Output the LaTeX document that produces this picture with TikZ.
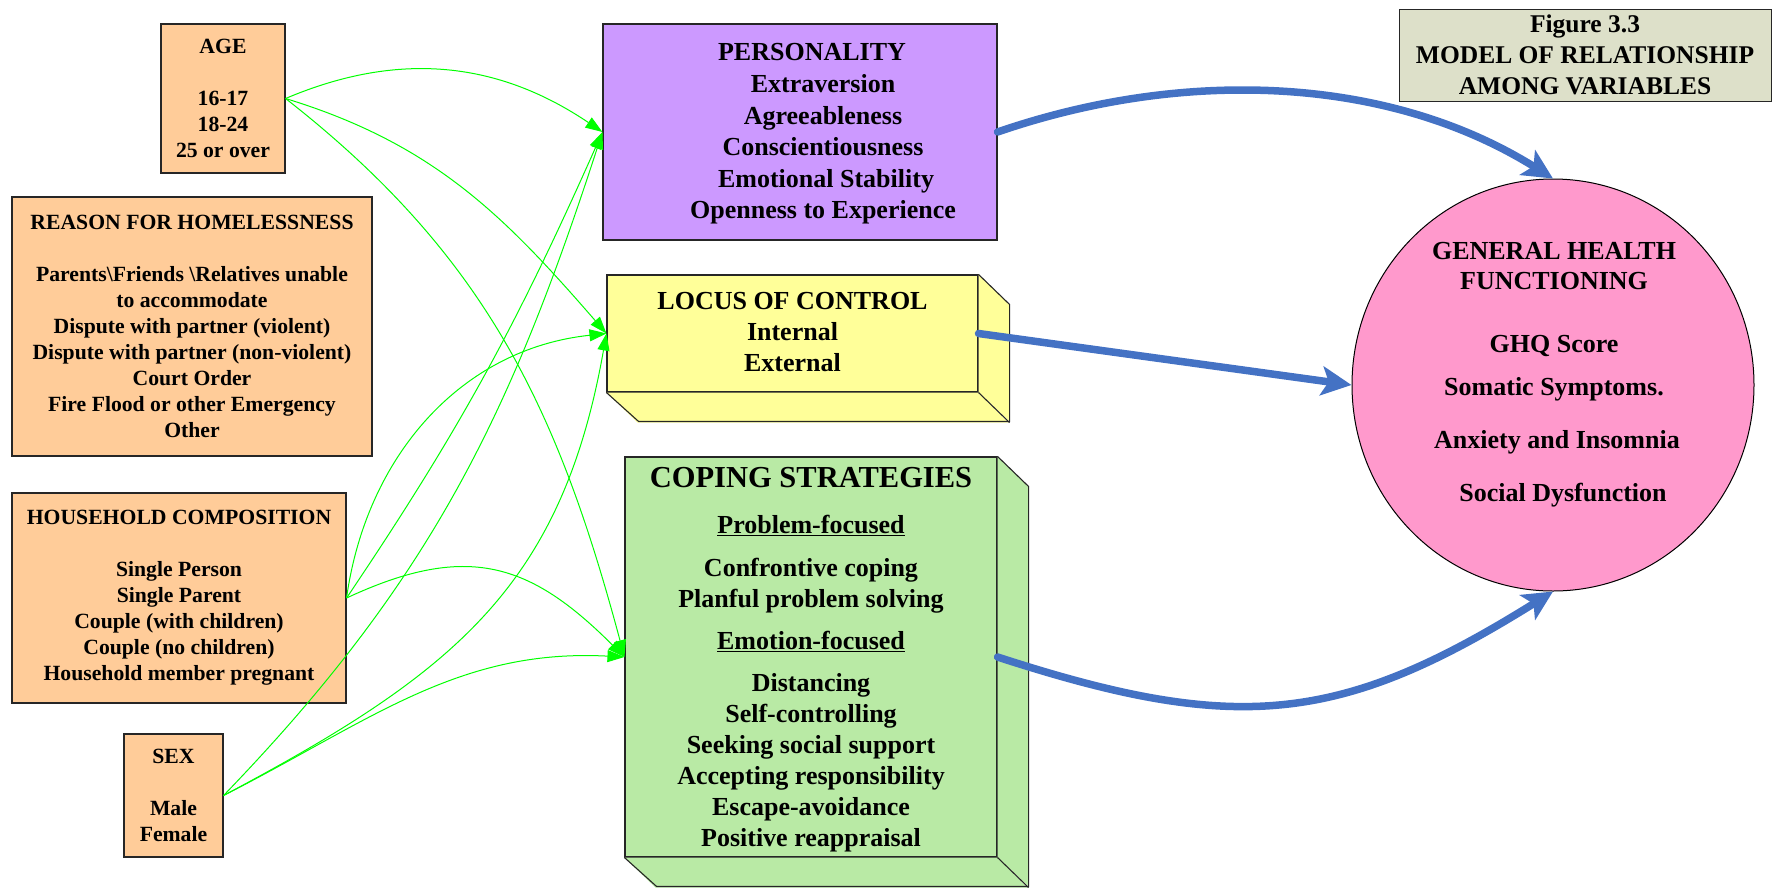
\documentclass[tikz,border=0pt]{standalone}
\usepackage{fontspec}
\setmainfont{Liberation Serif}
\usetikzlibrary{arrows.meta,shapes.geometric}

\definecolor{peach}{HTML}{FFCC99}
\definecolor{lavender}{HTML}{CC99FF}
\definecolor{paleyellow}{HTML}{FFFF99}
\definecolor{palegreen}{RGB}{185,234,165}
\definecolor{rosepink}{HTML}{FF99CC}
\definecolor{sage}{RGB}{221,224,201}
\definecolor{linkblue}{HTML}{4472C4}
\definecolor{linkgreen}{RGB}{0,255,0}

\begin{document}
\begin{tikzpicture}[x=1pt,y=1pt,
  frame/.style={draw=black!85, line width=1.1pt, inner sep=0pt},
  varbox/.style={frame, fill=peach, align=center,
    font=\fontsize{21.7}{26}\selectfont\bfseries},
  bigtext/.style={inner sep=0pt, align=center,
    font=\fontsize{26}{31}\selectfont\bfseries},
  face/.style={draw=black!85, line width=1.1pt},
  feed/.style={draw=linkgreen, line width=1pt,
    -{Triangle[length=17pt,width=12pt]}},
  effect/.style={draw=linkblue, line width=7.5pt, line cap=round,
    -{Stealth[length=30pt,width=29pt,inset=7pt]}}
]
\useasboundingbox (0,0) rectangle (1781,-887);

% ---- background variables ----
\node[varbox, minimum width=124pt, minimum height=149pt] (age) at (223,-98.5)
  {AGE\\[26pt]16-17\\18-24\\25 or over};
\node[varbox, minimum width=360pt, minimum height=259pt] (reason) at (192,-326.5)
  {REASON FOR HOMELESSNESS\\[26pt]
   Parents\textbackslash{}Friends \textbackslash{}Relatives unable\\
   to accommodate\\
   Dispute with partner (violent)\\
   Dispute with partner (non-violent)\\
   Court Order\\
   Fire Flood or other Emergency\\
   Other};
\node[varbox, minimum width=334pt, minimum height=210pt] (house) at (179,-598)
  {HOUSEHOLD COMPOSITION\\[26pt]
   Single Person\\Single Parent\\Couple (with children)\\
   Couple (no children)\\Household member pregnant};
\node[varbox, minimum width=99pt, minimum height=123pt] (sex) at (173.5,-795.5)
  {SEX\\[26pt]Male\\Female};

% ---- mediating variables ----
\node[frame, fill=lavender, minimum width=394pt, minimum height=216pt] (pers) at (800,-132) {};
\node[bigtext, font=\fontsize{26}{31.6}\selectfont\bfseries] (perstext) at (823,-134)
  {\hspace*{-22pt}PERSONALITY\\Extraversion\\Agreeableness\\Conscientiousness\\
   \hspace*{6pt}Emotional Stability\\Openness to Experience};

\node[frame, fill=paleyellow, minimum width=371pt, minimum height=117pt] (locus) at (792.5,-333.5) {};
\fill[paleyellow] (locus.north east) -- ++(31,-30) -- ++(0,-117) -- (locus.south east) -- cycle;
\fill[paleyellow] (locus.south west) -- ++(31,-30) -- ++(371,0) -- (locus.south east) -- cycle;
\draw[face] (locus.north east) -- ++(31,-30) -- ++(0,-117) -- ++(-371,0) -- (locus.south west);
\draw[face] (locus.south east) -- ++(31,-30);
\node[bigtext] (locustext) at (792.5,-332.5)
  {LOCUS OF CONTROL\\Internal\\External};

\node[frame, fill=palegreen, minimum width=372pt, minimum height=400pt] (coping) at (811,-657) {};
\fill[palegreen] (coping.north east) -- ++(31,-30) -- ++(0,-400) -- (coping.south east) -- cycle;
\fill[palegreen] (coping.south west) -- ++(31,-30) -- ++(372,0) -- (coping.south east) -- cycle;
\draw[face] (coping.north east) -- ++(31,-30) -- ++(0,-400) -- ++(-372,0) -- (coping.south west);
\draw[face] (coping.south east) -- ++(31,-30);
\node[bigtext] (copingtext) at (811,-660)
  {{\fontsize{30.5}{31}\selectfont COPING STRATEGIES}\\[15pt]
   \underline{Problem-focused}\\[12pt]
   Confrontive coping\\Planful problem solving\\[11pt]
   \underline{Emotion-focused}\\[11pt]
   Distancing\\Self-controlling\\Seeking social support\\
   Accepting responsibility\\Escape-avoidance\\Positive reappraisal};

% ---- outcome ----
\node[draw=black, line width=1pt, fill=rosepink, ellipse, inner sep=0pt,
      minimum width=402pt, minimum height=412pt] (ghf) at (1553,-385) {};
\node[inner sep=0pt, align=center, font=\fontsize{26}{30}\selectfont\bfseries] (ghftext) at (1554,-375)
  {GENERAL HEALTH\\FUNCTIONING\\[33pt]GHQ Score\\[13pt]Somatic Symptoms.\\[23pt]
   \hspace*{6pt}Anxiety and Insomnia\\[23pt]\hspace*{18pt}Social Dysfunction};

% ---- caption box ----
\node[frame, line width=1pt, fill=sage, minimum width=372pt, minimum height=92pt,
      align=center, font=\fontsize{25.5}{31}\selectfont\bfseries] (caption) at (1585,-55)
  {Figure 3.3\\MODEL OF RELATIONSHIP\\AMONG VARIABLES};

% ---- links from background variables ----
\draw[feed] (age.east) to[out=23,in=146] (pers.west);
\draw[feed] (age.east) to[out=-17,in=131] (locus.west);
\draw[feed] (age.east) to[out=-38,in=105] (coping.west);
\draw[feed] (house.east) to[out=56,in=-114] (pers.west);
\draw[feed] (house.east) to[out=82,in=-174] (locus.west);
\draw[feed] (house.east) to[out=25,in=135,looseness=1.2] (coping.west);
\draw[feed] (sex.east) to[out=46,in=-108] (pers.west);
\draw[feed] (sex.east) to[out=28,in=-100,looseness=1.1] (locus.west);
\draw[feed] (sex.east) to[out=27,in=177] (coping.west);

% ---- effects on general health ----
\draw[effect] (pers.east) to[out=19,in=148,looseness=0.9] (ghf.north);
\draw[effect] (locus.east) -- (ghf.west);
\draw[effect] (coping.east) to[out=-18,in=-148,looseness=1.15] (ghf.south);
\end{tikzpicture}
\end{document}
